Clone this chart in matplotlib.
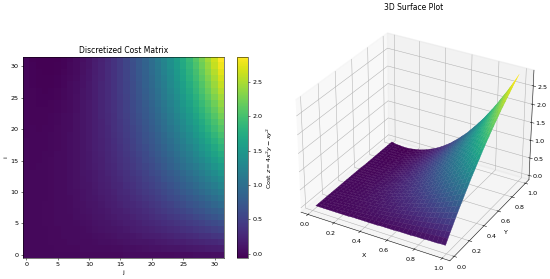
import numpy as np
import matplotlib
matplotlib.use("Agg")
import matplotlib.pyplot as plt

cost_rows = [
[0,0,0,0,0,0,0,0,0,.01,.01,.01,.01,.01,.01,.01,.02,.02,.02,.02,.03,.03,.03,.03,.04,.04,.04,.05,.05,.05,.06,.06],
[0,0,0,0,0,.01,.01,.01,.01,.02,.02,.02,.03,.03,.04,.04,.05,.05,.06,.07,.08,.08,.09,.10,.11,.12,.13,.14,.15,.16,.17,.18],
[0,0,0,0,.01,.01,.01,.02,.02,.03,.03,.04,.05,.05,.06,.07,.08,.09,.10,.11,.12,.14,.15,.16,.18,.19,.21,.23,.24,.26,.28,.30],
[0,0,0,0,.01,.01,.02,.02,.03,.04,.04,.05,.06,.07,.08,.10,.11,.12,.14,.16,.17,.19,.21,.23,.25,.27,.29,.31,.34,.36,.39,.41],
[0,0,0,0,.01,.01,.02,.03,.03,.04,.05,.07,.08,.09,.11,.12,.14,.16,.18,.20,.22,.24,.26,.29,.31,.34,.37,.40,.43,.46,.49,.53],
[0,0,0,.01,.01,.02,.02,.03,.04,.05,.06,.08,.09,.11,.13,.15,.17,.19,.21,.24,.26,.29,.32,.35,.38,.41,.45,.48,.52,.56,.60,.64],
[0,0,0,.01,.01,.02,.03,.03,.05,.06,.07,.09,.11,.13,.15,.17,.19,.22,.25,.28,.31,.34,.37,.41,.44,.48,.52,.56,.61,.65,.70,.75],
[0,0,0,.01,.01,.02,.03,.04,.05,.07,.08,.10,.12,.14,.17,.19,.22,.25,.28,.31,.35,.39,.42,.47,.51,.55,.60,.65,.69,.75,.80,.85],
[0,0,0,.01,.01,.02,.03,.04,.06,.07,.09,.11,.13,.16,.19,.22,.25,.28,.31,.35,.39,.43,.48,.52,.57,.62,.67,.72,.78,.84,.90,.96],
[0,0,0,0,.01,.02,.03,.04,.06,.08,.10,.12,.15,.17,.20,.24,.27,.31,.35,.39,.43,.48,.53,.58,.63,.68,.74,.80,.86,.93,.99,1.06],
[0,0,0,0,.01,.02,.03,.05,.06,.08,.11,.13,.16,.19,.22,.26,.29,.33,.38,.42,.47,.52,.57,.63,.69,.75,.81,.88,.95,1.02,1.09,1.17],
[0,0,0,0,.01,.02,.03,.05,.07,.09,.11,.14,.17,.20,.24,.27,.32,.36,.41,.46,.51,.56,.62,.68,.74,.81,.88,.95,1.03,1.10,1.18,1.27],
[0,0,0,0,.01,.02,.03,.05,.07,.09,.12,.15,.18,.21,.25,.29,.34,.38,.43,.49,.54,.60,.67,.73,.80,.87,.95,1.02,1.10,1.19,1.27,1.36],
[0,0,0,0,.01,.02,.03,.05,.07,.10,.12,.15,.19,.23,.27,.31,.36,.41,.46,.52,.58,.64,.71,.78,.85,.93,1.01,1.09,1.18,1.27,1.36,1.46],
[0,-.01,0,0,.01,.02,.03,.05,.07,.10,.13,.16,.20,.24,.28,.33,.38,.43,.49,.55,.61,.68,.75,.83,.91,.99,1.07,1.16,1.25,1.35,1.45,1.55],
[0,-.01,-.01,0,.01,.02,.03,.05,.07,.10,.13,.17,.20,.25,.29,.34,.39,.45,.51,.58,.64,.72,.79,.87,.96,1.04,1.13,1.23,1.33,1.43,1.54,1.65],
[0,-.01,-.01,0,0,.02,.03,.05,.07,.10,.13,.17,.21,.25,.30,.36,.41,.47,.54,.60,.68,.75,.83,.92,1.01,1.10,1.19,1.29,1.40,1.51,1.62,1.74],
[0,-.01,-.01,-.01,0,.01,.03,.05,.07,.10,.14,.18,.22,.26,.31,.37,.43,.49,.56,.63,.71,.79,.87,.96,1.05,1.15,1.25,1.36,1.47,1.58,1.70,1.83],
[0,-.01,-.01,-.01,0,.01,.03,.05,.07,.10,.14,.18,.22,.27,.32,.38,.44,.51,.58,.66,.73,.82,.91,1.00,1.10,1.20,1.31,1.42,1.54,1.66,1.78,1.91],
[-.01,-.01,-.01,-.01,0,.01,.03,.05,.07,.10,.14,.18,.23,.28,.33,.39,.46,.53,.60,.68,.76,.85,.94,1.04,1.14,1.25,1.36,1.48,1.60,1.73,1.86,2.00],
[-.01,-.01,-.02,-.01,-.01,.01,.02,.04,.07,.10,.14,.18,.23,.28,.34,.40,.47,.54,.62,.70,.79,.88,.98,1.08,1.19,1.30,1.42,1.54,1.67,1.80,1.94,2.08],
[-.01,-.02,-.02,-.02,-.01,0,.02,.04,.07,.10,.14,.18,.23,.29,.35,.41,.48,.56,.64,.72,.81,.91,1.01,1.12,1.23,1.35,1.47,1.60,1.73,1.87,2.01,2.16],
[-.01,-.02,-.02,-.02,-.01,0,.02,.04,.07,.10,.14,.19,.24,.29,.35,.42,.49,.57,.65,.74,.84,.94,1.04,1.15,1.27,1.39,1.52,1.65,1.79,1.93,2.08,2.24],
[-.01,-.02,-.02,-.02,-.02,-.01,.01,.03,.06,.10,.14,.19,.24,.30,.36,.43,.50,.58,.67,.76,.86,.96,1.07,1.19,1.31,1.44,1.57,1.71,1.85,2.00,2.15,2.32],
[-.01,-.02,-.03,-.03,-.02,-.01,.01,.03,.06,.10,.14,.18,.24,.30,.36,.43,.51,.60,.68,.78,.88,.99,1.10,1.22,1.35,1.48,1.61,1.76,1.91,2.06,2.22,2.39],
[-.01,-.02,-.03,-.03,-.03,-.02,0,.03,.06,.09,.13,.18,.24,.30,.37,.44,.52,.61,.70,.80,.90,1.01,1.13,1.25,1.38,1.52,1.66,1.81,1.96,2.12,2.29,2.46],
[-.01,-.02,-.03,-.04,-.03,-.02,0,.02,.05,.09,.13,.18,.24,.30,.37,.45,.53,.62,.71,.81,.92,1.03,1.16,1.28,1.42,1.56,1.70,1.86,2.02,2.18,2.36,2.53],
[-.01,-.03,-.04,-.04,-.04,-.03,-.01,.02,.05,.08,.13,.18,.24,.30,.37,.45,.53,.62,.72,.83,.94,1.06,1.18,1.31,1.45,1.59,1.75,1.90,2.07,2.24,2.42,2.60],
[-.01,-.03,-.04,-.04,-.04,-.03,-.01,.01,.04,.08,.12,.18,.23,.30,.37,.45,.54,.63,.73,.84,.95,1.08,1.20,1.34,1.48,1.63,1.79,1.95,2.12,2.30,2.48,2.67],
[-.01,-.03,-.04,-.05,-.05,-.04,-.02,0,.03,.07,.12,.17,.23,.30,.37,.45,.54,.64,.74,.85,.97,1.09,1.23,1.36,1.51,1.66,1.83,1.99,2.17,2.35,2.54,2.74],
[-.01,-.03,-.05,-.05,-.05,-.04,-.03,0,.03,.07,.11,.17,.23,.30,.37,.45,.55,.64,.75,.86,.98,1.11,1.25,1.39,1.54,1.70,1.86,2.03,2.22,2.40,2.60,2.80],
[-.01,-.04,-.05,-.06,-.06,-.05,-.03,-.01,.02,.06,.11,.16,.22,.29,.37,.45,.55,.65,.76,.87,1.00,1.13,1.27,1.41,1.57,1.73,1.90,2.08,2.26,2.45,2.65,2.86],
]
heat_xticks = [0, 5, 10, 15, 20, 25, 30]
heat_yticks = [0, 5, 10, 15, 20, 25, 30]
cbar_ticks = [0.0, 0.5, 1.0, 1.5, 2.0, 2.5]
surf_xticks = [0.0, 0.2, 0.4, 0.6, 0.8, 1.0]
surf_yticks = [0.0, 0.2, 0.4, 0.6, 0.8, 1.0]
surf_zticks = [0.0, 0.5, 1.0, 1.5, 2.0, 2.5]

S = 0.458
plt.rcParams.update({
    "font.size": 10 * S, "axes.titlesize": 12 * S, "axes.labelsize": 10 * S,
    "xtick.labelsize": 10 * S, "ytick.labelsize": 10 * S,
    "axes.linewidth": 0.8 * S, "grid.linewidth": 0.8 * S,
    "xtick.major.size": 3.5 * S, "ytick.major.size": 3.5 * S,
    "xtick.major.width": 0.8 * S, "ytick.major.width": 0.8 * S,
    "xtick.major.pad": 3.5 * S, "ytick.major.pad": 3.5 * S,
    "axes.titlepad": 6 * S, "axes.labelpad": 4 * S,
})

Z = np.array(cost_rows)
W, H = 550, 279
fig = plt.figure(figsize=(W / 100, H / 100), dpi=100)

ax = fig.add_axes([23 / W, 1 - 258 / H, 201 / W, 201 / H])
im = ax.imshow(Z, origin="lower", cmap="viridis", aspect="equal", interpolation="nearest")
ax.set_xticks(heat_xticks)
ax.set_yticks(heat_yticks)
ax.set_xlabel("j")
ax.set_ylabel("i")
ax.set_title("Discretized Cost Matrix")

cax = fig.add_axes([237 / W, 1 - 258 / H, 11 / W, 201 / H])
cb = fig.colorbar(im, cax=cax)
cb.set_ticks(cbar_ticks)
cb.set_label(r"Cost $z = 4x^2y - xy^2$")

ax3 = fig.add_axes([281 / W, 1 - 278 / H, 265 / W, 266 / H], projection="3d")
x_pos = (np.arange(Z.shape[1]) + 0.5) / Z.shape[1]
y_pos = (np.arange(Z.shape[0]) + 0.5) / Z.shape[0]
X, Y = np.meshgrid(x_pos, y_pos)
surf = ax3.plot_surface(X, Y, Z, cmap="viridis", rstride=1, cstride=1, linewidth=0.25, antialiased=True)
surf.set_edgecolor("face")
ax3.set_xticks(surf_xticks)
ax3.set_yticks(surf_yticks)
ax3.set_zticks(surf_zticks)
ax3.set_xlabel("X", labelpad=-11)
ax3.set_ylabel("Y", labelpad=-12)
ax3.tick_params(axis="x", pad=-4)
ax3.tick_params(axis="y", pad=-3)
ax3.tick_params(axis="z", pad=-4)
ax3.set_title("3D Surface Plot", y=1.085, pad=2)

fig.savefig("out.png", dpi=100)
